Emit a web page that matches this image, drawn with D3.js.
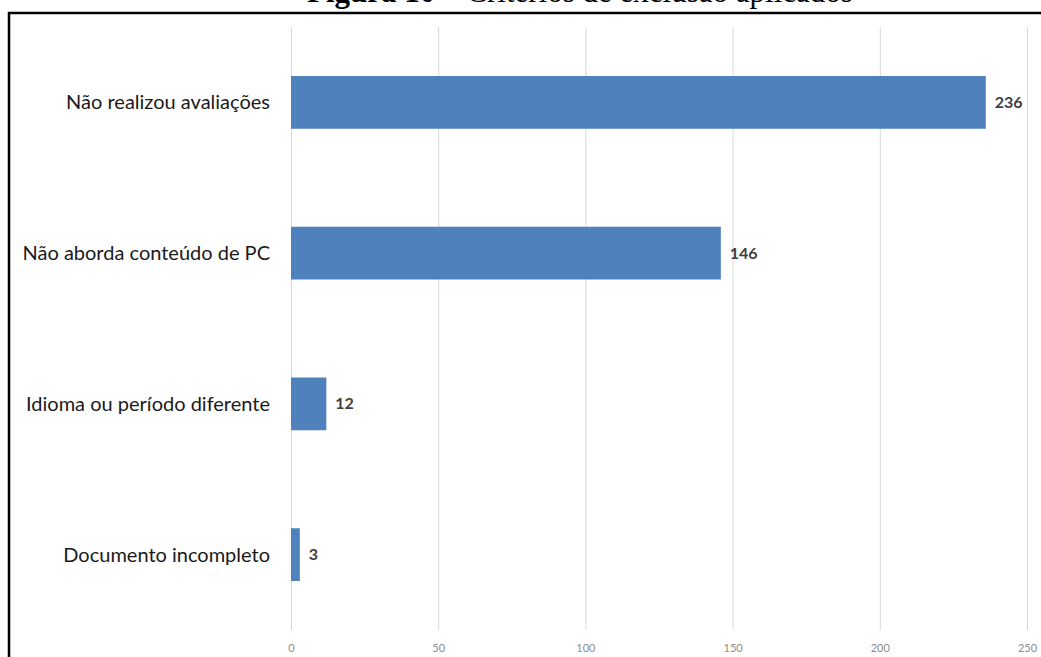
<!DOCTYPE html>
<html>
<head>
<meta charset="utf-8">
<script src="https://cdn.jsdelivr.net/npm/d3@7"></script>
<style>
  body { margin: 0; background: #fff; }
  svg { display: block; }
</style>
</head>
<body>
<div class="chart"></div>
<script>
const categories = ["Não realizou avaliações", "Não aborda conteúdo de PC", "Idioma ou período diferente", "Documento incompleto"];
const values = [236, 146, 12, 3];
const ticks = [0, 50, 100, 150, 200, 250];

const w = 1041;
const h = 657;
const svg = d3.select('.chart')
                .append('svg')
                .attr('width', w)
                .attr('height', h);

//title, cut off at the top of the page like in the source
const title = svg.append("text")
    .attr("x", 307)
    .attr("y", 2)
    .attr("font-family", "Liberation Serif")
    .attr("font-size", 31)
    .attr("fill", "#000");
title.append("tspan").attr("font-weight", "bold").text("Figura 10");
title.append("tspan").text(" – Critérios de exclusão aplicados");

//frame
svg.append("rect")
    .attr("x", 9)
    .attr("y", 13)
    .attr("width", 1100)
    .attr("height", 700)
    .attr("fill", "none")
    .attr("stroke", "#000")
    .attr("stroke-width", 2.5);

const x = d3.scaleLinear().domain([0, 250]).range([291, 1027]);
const y = d3.scaleBand().domain(categories).range([27, 630])
            .paddingInner(0.65).paddingOuter(0.325);

//gridlines + tick labels
const xAxis = svg.append("g")
    .attr("transform", "translate(0,630)")
    .call(d3.axisBottom(x).tickValues(ticks).tickSize(-603).tickPadding(14));
xAxis.select(".domain").remove();
xAxis.selectAll("line").attr("stroke", "#d9d9d9").attr("stroke-width", 1);
xAxis.selectAll("text")
    .attr("font-family", "Lato")
    .attr("font-size", 11)
    .attr("fill", "#8c8c8c");

//bars
svg.selectAll("rect.bar")
    .data(values)
    .enter()
    .append("rect")
    .attr("class", "bar")
    .attr("x", x(0))
    .attr("y", (d, i) => y(categories[i]))
    .attr("width", d => x(d) - x(0))
    .attr("height", y.bandwidth())
    .attr("fill", "#4f81bd");

//category labels
svg.selectAll("text.cat")
    .data(categories)
    .enter()
    .append("text")
    .attr("class", "cat")
    .text(d => d)
    .attr("x", 270)
    .attr("y", d => y(d) + y.bandwidth() / 2)
    .attr("dy", "0.35em")
    .attr("text-anchor", "end")
    .attr("font-family", "Lato")
    .attr("font-size", 20)
    .attr("fill", "#1a1a1a");

//value labels
svg.selectAll("text.val")
    .data(values)
    .enter()
    .append("text")
    .attr("class", "val")
    .text(d => d)
    .attr("x", d => x(d) + 9)
    .attr("y", (d, i) => y(categories[i]) + y.bandwidth() / 2)
    .attr("dy", "0.35em")
    .attr("font-family", "Lato")
    .attr("font-weight", "bold")
    .attr("font-size", 16)
    .attr("fill", "#404040");
</script>
</body>
</html>
